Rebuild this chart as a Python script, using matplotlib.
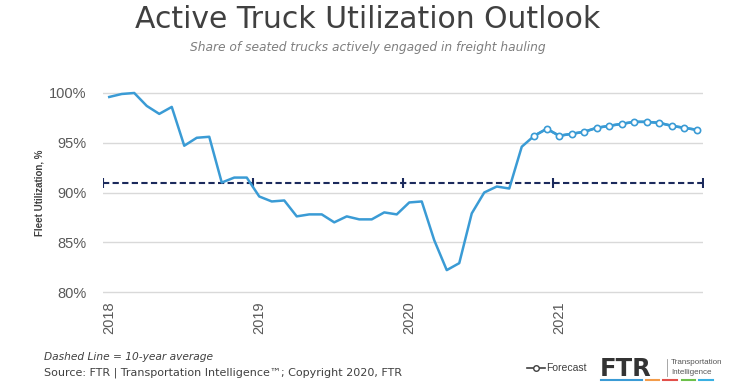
import matplotlib.pyplot as plt
from matplotlib.lines import Line2D

# monthly data, Jan 2018 .. Dec 2021
months = list(range(48))
utilization = [99.6, 99.9, 100.0, 98.7, 97.9, 98.6, 94.7, 95.5, 95.6, 91.0, 91.5, 91.5,
               89.6, 89.1, 89.2, 87.6, 87.8, 87.8, 87.0, 87.6, 87.3, 87.3, 88.0, 87.8,
               89.0, 89.1, 85.2, 82.2, 82.9, 87.9, 90.0, 90.6, 90.4, 94.6, 95.7, 96.4,
               95.7, 95.9, 96.1, 96.5, 96.7, 96.9, 97.1, 97.1, 97.0, 96.7, 96.5, 96.3]
forecast_start = 34  # Nov 2020
ten_year_avg = 91.0
avg_marks = [-0.5, 11.5, 23.5, 35.5, 47.5]
year_ticks = [0, 12, 24, 36]
year_labels = ['2018', '2019', '2020', '2021']
y_ticks = [80, 85, 90, 95, 100]

blue = '#3a9bd5'
navy = '#1b2a5c'
grey_txt = '#595959'
narrow = ['Liberation Sans Narrow', 'Liberation Sans']

fig = plt.figure(figsize=(7.35, 3.88), dpi=100)
ax = fig.add_axes([103 / 735, 1 - 294 / 388, 600 / 735, 203 / 388])

ax.plot(months, utilization, color=blue, lw=1.8, zorder=3)
ax.plot(months[forecast_start:], utilization[forecast_start:], color=blue, lw=1.8,
        marker='o', ms=4.5, mfc='white', mec=blue, mew=1.2, zorder=4)

ax.plot(avg_marks, [ten_year_avg] * len(avg_marks), color=navy, lw=1.5,
        ls=(0, (3, 1.6)), zorder=2)
ax.plot(avg_marks, [ten_year_avg] * len(avg_marks), ls='none', marker='|', ms=7,
        mew=1.5, color=navy, zorder=2)

ax.set_xlim(-0.5, 47.5)
ax.set_ylim(79.8, 100.2)
ax.set_yticks(y_ticks)
ax.set_yticklabels([f'{v}%' for v in y_ticks])
ax.set_xticks(year_ticks)
ax.set_xticklabels(year_labels, rotation=90, va='top')
ax.grid(axis='y', color='#d9d9d9', lw=1)
ax.set_axisbelow(True)
for s in ax.spines.values():
    s.set_visible(False)
ax.tick_params(length=0, labelsize=10.5, labelcolor=grey_txt)
ax.tick_params(axis='y', pad=12)
ax.tick_params(axis='x', pad=5)
for lab in ax.get_xticklabels() + ax.get_yticklabels():
    lab.set_family('Liberation Sans')
ax.set_ylabel('Fleet Utilization, %', fontsize=7, fontweight='bold', color='#404040',
              family='Liberation Sans', labelpad=3)

fig.text(0.5, 1 - 19 / 388, 'Active Truck Utilization Outlook', ha='center', va='center',
         fontsize=21.5, color='#404040')
fig.text(0.5, 1 - 47 / 388, 'Share of seated trucks actively engaged in freight hauling',
         ha='center', va='center', fontsize=8.8, style='italic', color='#7f7f7f')

fig.text(44 / 735, 1 - 357 / 388, 'Dashed Line = 10-year average', ha='left', va='center',
         fontsize=7.7, style='italic', color='#404040')
fig.text(44 / 735, 1 - 373 / 388,
         'Source: FTR | Transportation Intelligence\u2122; Copyright 2020, FTR',
         ha='left', va='center', fontsize=8.0, color='#404040')

# legend
ly = 1 - 368 / 388
fig.add_artist(Line2D([527 / 735, 545 / 735], [ly, ly], color='#404040', lw=1.2))
fig.add_artist(Line2D([536 / 735], [ly], marker='o', ms=4, mfc='white', mec='#404040', mew=1))
fig.text(546 / 735, ly, 'Forecast', ha='left', va='center', fontsize=7.5,
         color='#404040', family='Liberation Sans')

# FTR logo
fig.text(600 / 735, 1 - 369 / 388, 'FTR', ha='left', va='center', fontsize=17.5,
         fontweight='bold', color='#333333', family='DejaVu Sans')
fig.add_artist(Line2D([667 / 735, 667 / 735], [1 - 359 / 388, 1 - 376 / 388],
                      color='#999999', lw=0.6))
fig.text(671 / 735, 1 - 362 / 388, 'Transportation', ha='left', va='center', fontsize=5.8,
         color='#555555', family=narrow)
fig.text(671 / 735, 1 - 373 / 388, 'Intelligence', ha='left', va='center', fontsize=5.8,
         color='#555555', family=narrow)
by = 1 - 380 / 388
for x0, x1, c in [(601, 642, '#3a9bd5'), (646, 659, '#f39c4a'), (663, 677, '#e2504a'),
                  (682, 695, '#6cc04a'), (699, 713, '#3ab0e2')]:
    fig.add_artist(Line2D([x0 / 735, x1 / 735], [by, by], color=c, lw=1.5))

fig.savefig('out.png', dpi=100)
